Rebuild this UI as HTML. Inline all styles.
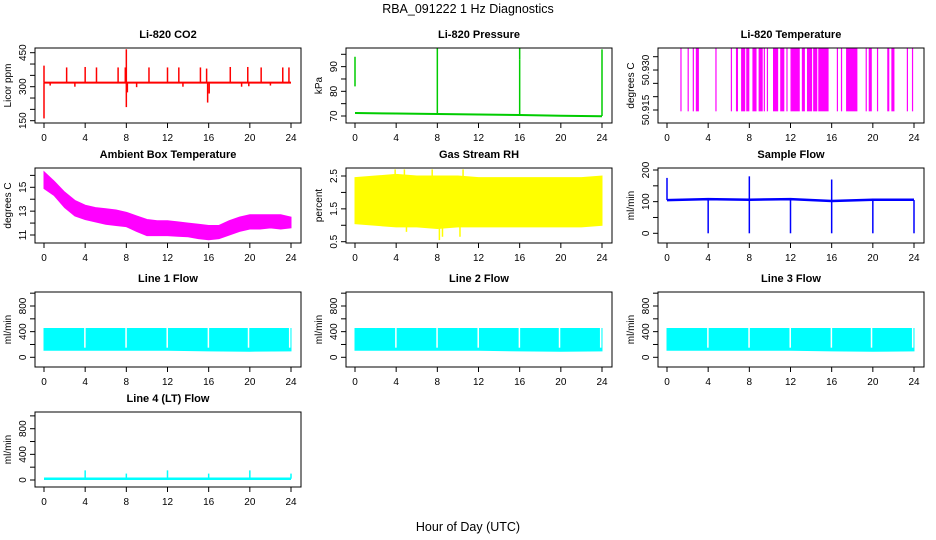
<!DOCTYPE html>
<html><head><meta charset="utf-8"><style>
html,body{margin:0;padding:0;background:#fff}
svg{display:block;font-family:"Liberation Sans",sans-serif}
.t{font-weight:bold;font-size:11px;text-anchor:middle}
.tk{font-size:10px;text-anchor:middle}
</style></head><body>
<svg id="c" width="936" height="540" viewBox="0 0 936 540" xmlns="http://www.w3.org/2000/svg">
<text x="468" y="13" font-size="12.5" text-anchor="middle">RBA_091222  1 Hz Diagnostics</text>
<text x="468" y="531" font-size="12.5" text-anchor="middle">Hour of Day (UTC)</text>
</svg>
<script>
// ---- data ----
const xTicks=[0,4,8,12,16,20,24];
const co2Base=[[0,318],[6,318],[12,318],[18,318],[24,318]];
const co2Spikes=[[0.0,393],[2.2,385],[4.0,387],[5.1,385],[7.2,385],[7.9,385],[10.2,385],[12.0,385],[13.1,385],[15.2,385],[15.8,380],[18.1,387],[19.8,387],[21.1,385],[23.2,385],[23.8,385],[8.0,465],[0.0,160],[8.0,210],[8.1,275],[15.9,230],[16.05,270],[0.6,305],[3.0,300],[9.0,298],[13.5,300],[19.2,300],[19.9,302],[22.0,305]];
const presBase=[[0,71.2],[4,71.0],[8,70.8],[12,70.6],[16,70.4],[20,70.1],[24,69.9]];
const presSpikes=[[0,82,94],[8,70.8,98],[16,93,98],[16,70.2,93],[24,70,97]];
const tempDropStart=[1.3,2.0,2.5,2.8,4.7,6.2,6.7,7.2,7.7,8.3,8.9,9.4,9.7,10.3,11.0,11.6,12.0,12.1,13.1,13.6,14.2,14.7,16.5,16.9,17.4,19.3,19.6,20.4,21.4,21.8,23.3,23.8];
const tempDropEnd=[1.4,2.1,2.55,3.1,4.75,6.25,6.9,7.6,8.0,8.7,9.3,9.45,9.75,10.8,11.4,11.65,12.05,12.9,13.4,14.1,14.6,15.7,16.55,16.95,18.5,19.35,19.9,20.45,21.6,22.1,23.4,23.85];
const tempHigh=50.934, tempLow=50.9095;
const ambHours=[0,1,2,3,4,5,6,7,8,9,10,11,12,13,14,15,16,17,18,19,20,21,22,23,24];
const ambUpper=[16.3,15.5,14.6,13.9,13.5,13.3,13.2,13.1,12.9,12.6,12.3,12.2,12.2,12.1,12.0,11.9,11.8,11.8,12.2,12.5,12.7,12.7,12.7,12.7,12.5];
const ambLower=[14.9,14.3,13.3,12.6,12.3,12.1,11.9,11.8,11.7,11.3,10.95,10.95,10.95,10.9,10.85,10.7,10.6,10.7,11.0,11.3,11.5,11.5,11.6,11.5,11.6];
const rhHours=[0,2,4,6,8,10,12,14,16,18,20,22,24];
const rhUpper=[2.45,2.5,2.55,2.5,2.5,2.5,2.45,2.45,2.45,2.45,2.45,2.45,2.5];
const rhLower=[1.05,1.0,0.95,0.95,0.9,0.95,0.95,0.95,0.95,0.95,0.95,0.95,1.0];
const rhSpikes=[[3.9,2.7],[4.8,2.7],[7.5,2.7],[10.5,2.7],[8.2,0.55],[8.5,0.65],[10.2,0.65],[5.0,0.8],[0.1,2.3]];
const sfBase=[[0,105],[4,108],[8,106],[12,108],[16,102],[20,106],[24,106]];
const sfSpikes=[[0,175],[8,180],[16,170],[4,0],[8,0],[12,0],[16,0],[20,0],[24,0]];
const flowUpper=[450,450,450,450,450,450,450];
const flowLower=[110,110,110,110,100,95,100];
const flowGaps=[3.9,7.9,11.9,15.9,19.8,23.8];
const l4Base=20;
const l4Spikes=[[4,150],[8,100],[12,150],[16,100],[20,150],[24,100]];

// ---- layout ----
const svg=document.getElementById('c');
const NS='http://www.w3.org/2000/svg';
const colL=[35,346,658], rowT=[48,168,292,412], BW=266, BH=75;
function mk(tag,attrs,parent){const e=document.createElementNS(NS,tag);for(const k in attrs)e.setAttribute(k,attrs[k]);(parent||svg).appendChild(e);return e;}
function panel(col,row,title,ylab,yTicks,yLabels,y0v,y0p,y1v,y1p,name){
  const L=colL[col],T=rowT[row];
  const g=mk('g',{});
  
  
  const X=h=>L+9+h/24*247;
  const Y=v=>y0p+(v-y0v)*(y1p-y0p)/(y1v-y0v);
  const tt=mk('text',{x:L+BW/2,y:T-10,class:'t'},g);tt.textContent=title;
  
  
  const yl=mk('text',{x:0,y:0,'font-size':'10','text-anchor':'middle',transform:`translate(${L-24},${T+BH/2}) rotate(-90)`},g);yl.textContent=ylab;
  
  
  const body=mk('g',{},g);
  const clip=mk('clipPath',{id:'cl'+name},g);mk('rect',{x:L,y:T,width:BW,height:BH},clip);
  body.setAttribute('clip-path','url(#cl'+name+')');
  mk('rect',{x:L,y:T,width:BW,height:BH,fill:'none',stroke:'#000','stroke-width':1},g);
  xTicks.forEach(h=>{mk('line',{x1:X(h),x2:X(h),y1:T+BH,y2:T+BH+5,stroke:'#000'},g);
    const t=mk('text',{x:X(h),y:T+BH+18,class:'tk'},g);t.textContent=h;
    
    });
  mk('line',{x1:L,x2:L,y1:Y(yTicks[0]),y2:Y(yTicks[yTicks.length-1]),stroke:'#000'},g);
  yTicks.forEach((v,i)=>{mk('line',{x1:L-5,x2:L,y1:Y(v),y2:Y(v),stroke:'#000'},g);
    if(yLabels[i]){const t=mk('text',{x:0,y:0,'font-size':'10','text-anchor':'middle',transform:`translate(${L-9},${Y(v)}) rotate(-90)`},g);t.textContent=yLabels[i];
      
      }});
  return {g:body,X,Y};
}
function pline(p,pts,color,w,name){const e=mk('polyline',{points:pts.map(d=>p.X(d[0])+','+p.Y(d[1])).join(' '),fill:'none',stroke:color,'stroke-width':w||1},p.g);
  
  return e;}
function vline(p,h,a,b,color,name){const e=mk('line',{x1:p.X(h),x2:p.X(h),y1:p.Y(a),y2:p.Y(b),stroke:color,'stroke-width':1.5},p.g);
  
  }
function band(p,hours,up,lo,color,name){const pts=hours.map((h,i)=>[h,up[i]]).concat(hours.map((h,i)=>[h,lo[i]]).reverse());
  const e=mk('polygon',{points:pts.map(d=>p.X(d[0])+','+p.Y(d[1])).join(' '),fill:color,stroke:color},p.g);
  
  }

// CO2
let p=panel(0,0,'Li-820 CO2','Licor ppm',[150,200,250,300,350,400,450],['150','','','300','','','450'],450,52.7,150,120.7,'co2');
pline(p,co2Base,'#f00',2,'co2-line');
co2Spikes.forEach(s=>vline(p,s[0],318,s[1],'#f00','co2-spike'));
// Pressure
p=panel(1,0,'Li-820 Pressure','kPa',[70,75,80,85,90,95],['70','','80','','90',''],70,116,95,54.3,'pressure');
pline(p,presBase,'#0c0',2,'pressure-line');
presSpikes.forEach(s=>vline(p,s[0],s[1],s[2],'#0c0','pressure-spike'));
// Temperature
p=panel(2,0,'Li-820 Temperature','degrees C',[50.910,50.915,50.920,50.925,50.930],['50.915','','','50.930',''],50.910,110,50.930,56.7,'li820-temp');
pline(p,[[0,tempHigh],[24,tempHigh]],'#f0f',1.5,'temp-line');
tempDropStart.forEach((s,i)=>{const r=mk('rect',{x:p.X(s),y:p.Y(tempHigh),width:Math.max(1.2,p.X(tempDropEnd[i])-p.X(s)),height:p.Y(tempLow)-p.Y(tempHigh),fill:'#f0f'},p.g);
  
  });
// Ambient
p=panel(0,1,'Ambient Box Temperature','degrees C',[11,12,13,14,15,16],['11','','13','','15',''],11,235,15,187.3,'ambient');
band(p,ambHours,ambUpper,ambLower,'#f0f','ambient-band');
// RH
p=panel(1,1,'Gas Stream RH','percent',[0.5,1,1.5,2,2.5],['0.5','','1.5','','2.5'],0.5,241.7,2.5,176,'rh');
band(p,rhHours,rhUpper,rhLower,'#ff0','rh-band');
rhSpikes.forEach(s=>vline(p,s[0],1.7,s[1],'#ff0','rh-spike'));
// Sample flow
p=panel(2,1,'Sample Flow','ml/min',[0,50,100,150,200],['0','','100','','200'],0,233.3,200,170,'sample-flow');
pline(p,sfBase,'#00f',2.5,'sample-flow-line');
sfSpikes.forEach(s=>vline(p,s[0],105,s[1],'#00f','sample-flow-spike'));
// Line flows
const fh=[0,4,8,12,16,20,24];
['Line 1 Flow','Line 2 Flow','Line 3 Flow'].forEach((t,i)=>{
  const q=panel(i,2,t,'ml/min',[0,200,400,600,800,1000],['0','','400','','800',''],0,357.3,800,306,'line'+(i+1)+'-flow');
  band(q,fh,flowUpper,flowLower,'#0ff','line'+(i+1)+'-band');
  flowGaps.forEach(h=>{const r=mk('rect',{x:q.X(h),y:q.Y(1000),width:1.5,height:q.Y(150)-q.Y(1000),fill:'#fff'},q.g);
    
    });
});
// Line 4
p=panel(0,3,'Line 4 (LT) Flow','ml/min',[0,200,400,600,800,1000],['0','','400','','800',''],0,480,800,428.7,'line4-flow');
pline(p,[[0,l4Base],[24,l4Base]],'#0ff',2.5,'line4-line');
l4Spikes.forEach(s=>vline(p,s[0],l4Base,s[1],'#0ff','line4-spike'));
</script>
</body></html>
